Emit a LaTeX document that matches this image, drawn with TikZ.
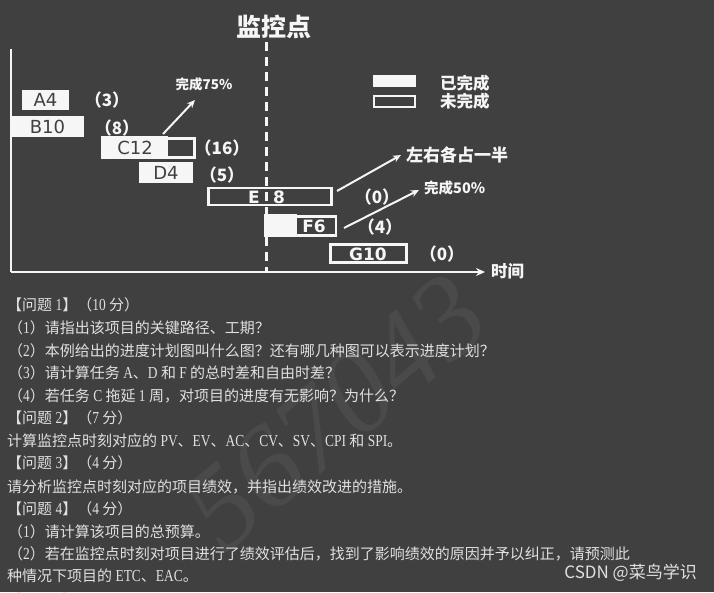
\documentclass[tikz,border=0pt]{standalone}
\usepackage{fontspec}
\usetikzlibrary{arrows.meta}
\newfontfamily\cjk{Noto Sans CJK SC}
\newfontfamily\latbody{Liberation Serif}[FakeStretch=0.8,Scale=1.12]
\newfontfamily\wmfont{Liberation Serif}
\newfontfamily\boxfont{DejaVu Sans}
\newcommand\lat[1]{{\latbody #1}}
\definecolor{bg}{RGB}{64,64,64}
\definecolor{fg}{RGB}{246,246,246}
\definecolor{txt}{RGB}{224,224,224}
\definecolor{wm}{RGB}{74,74,74}
\tikzset{
  donebox/.style={fill=fg, draw=none, inner sep=0pt, text=bg, font=\boxfont\fontsize{18}{18}\selectfont},
  openbox/.style={draw=fg, line width=2.2pt, inner sep=0pt},
  boxtxt/.style={inner sep=0pt, text=fg, font=\boxfont\bfseries\fontsize{17}{17}\selectfont},
  durlabel/.style={text=fg, inner sep=0pt, font=\cjk\bfseries\fontsize{17}{17}\selectfont},
  note/.style={text=fg, inner sep=0pt, font=\cjk\bfseries\fontsize{#1}{#1}\selectfont},
  bodytxt/.style={anchor=west, inner sep=0pt, text=txt, font=\cjk\fontsize{15}{15}\selectfont},
  axisline/.style={draw=fg, line width=2.5pt},
  pointer/.style={draw=fg, line width=2pt, -{Stealth[length=8pt,width=7pt]}},
}
\begin{document}
\begin{tikzpicture}[x=1pt,y=-1pt]
\useasboundingbox (0,0) rectangle (714,592);
\clip (0,0) rectangle (714,592);
\fill[bg] (0,0) rectangle (714,592);
% watermark
\node[text=wm, inner sep=0pt, rotate=40, font=\wmfont\itshape\fontsize{118}{118}\selectfont] (wmark) at (335,412) {567043};
% title and monitor line
\node[note=25] (mon) at (274,27) {监控点};
\coordinate (dtop) at (266,42);
\coordinate (dbot) at (266,272);
% axes
\coordinate (ytop) at (11,49);
\coordinate (O) at (11,272);
\coordinate (xend) at (485,272);
\draw[axisline] (ytop) -- (O);
\draw[axisline, -{Stealth[length=9pt,width=8pt]}] (O) -- (xend);
\node[note=16.5, anchor=west] (time) at (491,271) {时间};
% tasks
\node[donebox, minimum width=47pt, minimum height=20pt] (A) at (45.5,100) {A4};
\node[donebox, minimum width=73pt, minimum height=21pt] (B) at (47.5,126.5) {B10};
\node[openbox, minimum width=91pt, minimum height=19pt] (C) at (149,148) {};
\fill[fg] ([xshift=-1.1pt,yshift=1.1pt]C.north west) rectangle ([yshift=-1.1pt]168,158);
\node[donebox, fill=none] (Ct) at (135,148) {C12};
\node[donebox, minimum width=54pt, minimum height=21pt] (D) at (166,172.5) {D4};
\node[openbox, minimum width=123pt, minimum height=17pt] (E) at (270,196.5) {};
\node[boxtxt] (Et) at (254,197) {E};
\node[boxtxt] (E8) at (279,197) {8};
\node[openbox, minimum width=70pt, minimum height=19pt] (F) at (301,226) {};
\fill[fg] ([xshift=-1.1pt,yshift=1.1pt]F.north west) rectangle ([yshift=-1.1pt]297,236);
\node[boxtxt] (Ft) at (314,226) {F6};
\node[openbox, minimum width=76pt, minimum height=18pt] (G) at (368.5,253.5) {};
\node[boxtxt] (Gt) at (368,254) {G10};
% monitor dashed line
\draw[fg, line width=3pt, dash pattern=on 9pt off 6pt] (dtop) -- (dbot);
% durations
\node[durlabel] (dA) at (107,100) {（3）};
\node[durlabel] (dB) at (117,128) {（8）};
\node[durlabel] (dC) at (222,148) {（16）};
\node[durlabel] (dD) at (222,175) {（5）};
\node[durlabel] (dE) at (377,197) {（0）};
\node[durlabel] (dF) at (380,227) {（4）};
\node[durlabel] (dG) at (442,254) {（0）};
% pointers and notes
\node[note=13.5] (n75) at (204,84) {完成75\%};
\coordinate (c1) at (163,134);
\coordinate (c2) at (195,100);
\draw[pointer] (c1) -- (c2);
\node[note=17, anchor=west] (nhalf) at (406,155) {左右各占一半};
\coordinate (e1) at (337,191);
\coordinate (e2) at (401,155);
\draw[pointer] (e1) -- (e2);
\node[note=14.5, anchor=west] (n50) at (424,188) {完成50\%};
\coordinate (f1) at (344,228);
\coordinate (f2) at (419,190);
\draw[pointer] (f1) -- (f2);
% legend
\node[fill=fg, inner sep=0pt, minimum width=43pt, minimum height=12pt] (legdone) at (394.5,81) {};
\node[draw=fg, line width=2.4pt, inner sep=0pt, minimum width=41pt, minimum height=11pt] (legopen) at (394.5,101.5) {};
\node[note=16.5, anchor=west] (ldone) at (440,83) {已完成};
\node[note=16.5, anchor=west] (lopen) at (440,101) {未完成};
% body text
\node[bodytxt] (q1) at (7,305) {【问题 \lat{1}】（\lat{10} 分）};
\node[bodytxt] (q11) at (8,328) {（\lat{1}）请指出该项目的关键路径、工期？};
\node[bodytxt] (q12) at (8,351) {（\lat{2}）本例给出的进度计划图叫什么图？还有哪几种图可以表示进度计划？};
\node[bodytxt] (q13) at (8,373) {（\lat{3}）请计算任务 \lat{A}、\lat{D} 和 \lat{F} 的总时差和自由时差？};
\node[bodytxt] (q14) at (8,396) {（\lat{4}）若任务 \lat{C} 拖延 \lat{1} 周，对项目的进度有无影响？为什么？};
\node[bodytxt] (q2) at (7,418) {【问题 \lat{2}】（\lat{7} 分）};
\node[bodytxt] (q21) at (7,441) {计算监控点时刻对应的 \lat{PV}、\lat{EV}、\lat{AC}、\lat{CV}、\lat{SV}、\lat{CPI} 和 \lat{SPI}。};
\node[bodytxt] (q3) at (7,463) {【问题 \lat{3}】（\lat{4} 分）};
\node[bodytxt] (q31) at (7,487) {请分析监控点时刻对应的项目绩效，并指出绩效改进的措施。};
\node[bodytxt] (q4) at (7,509) {【问题 \lat{4}】（\lat{4} 分）};
\node[bodytxt] (q41) at (8,532) {（\lat{1}）请计算该项目的总预算。};
\node[bodytxt] (q42) at (8,554) {（\lat{2}）若在监控点时刻对项目进行了绩效评估后，找到了影响绩效的原因并予以纠正，请预测此};
\node[bodytxt] (q43) at (7,576) {种情况下项目的 \lat{ETC}、\lat{EAC}。};
\node[bodytxt] (q5) at (7,600) {【问题 \lat{5}】};
% site mark
\node[inner sep=0pt, anchor=east, text=txt, font=\cjk\fontsize{17}{17}\selectfont] (csdn) at (697,573) {CSDN @菜鸟学识};
\end{tikzpicture}
\end{document}
